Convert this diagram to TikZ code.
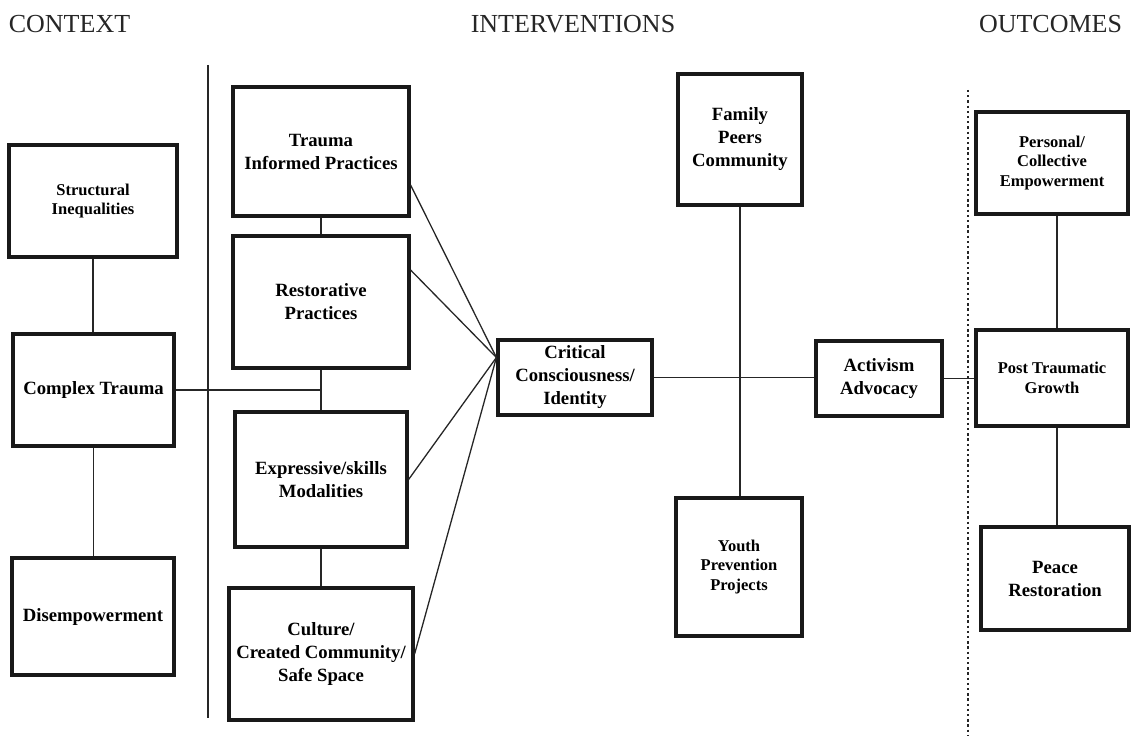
\documentclass[tikz,border=0pt]{standalone}
\usepackage{fontspec}
\setmainfont{Liberation Serif}
\usepackage{tikz}
\usetikzlibrary{positioning}
\usepackage{xcolor}

\begin{document}
\begin{tikzpicture}[
        x=1pt, y=-1pt,
        cbox/.style={rectangle, draw=black!90, line width=3.2pt, align=center, inner sep=0pt,
            font=\fontsize{18.7}{23}\selectfont\bfseries},
        sbox/.style={cbox, font=\fontsize{16.5}{19.5}\selectfont\bfseries},
        head/.style={anchor=base, font=\fontsize{26}{28}\selectfont, text=black!85},
        link/.style={draw=black!85, line width=1.3pt}
    ]
        \useasboundingbox (0,0) rectangle (1131,741);

        % column heads
        \node[head] (hctx) at (69.5,33) {CONTEXT};
        \node[head] (hint) at (573,33) {INTERVENTIONS};
        \node[head] (hout) at (1050.5,33) {OUTCOMES};

        % context
        \node[sbox, minimum width=168pt, minimum height=112pt] (struct) at (93,201) {Structural\\Inequalities};
        \node[cbox, minimum width=161pt, minimum height=112pt] (complex) at (93.5,390) {Complex Trauma};
        \node[cbox, minimum width=162pt, minimum height=117pt] (disemp) at (93,616.5) {Disempowerment};

        % interventions
        \node[cbox, minimum width=176pt, minimum height=129pt] (trauma) at (321,151.5) {Trauma\\Informed Practices};
        \node[cbox, minimum width=176pt, minimum height=132pt] (restor) at (321,302) {Restorative\\Practices};
        \node[cbox, minimum width=172pt, minimum height=135pt] (express) at (321,479.5) {Expressive/skills\\Modalities};
        \node[cbox, minimum width=184pt, minimum height=132pt] (culture) at (321,654) {Culture/\\Created Community/\\Safe Space};
        \node[cbox, minimum width=154pt, minimum height=75pt] (crit) at (575,377.5) {Critical\\Consciousness/\\Identity};
        \node[cbox, minimum width=124pt, minimum height=131pt] (family) at (740,139.5) {Family\\Peers\\Community};
        \node[sbox, minimum width=126pt, minimum height=138pt] (youth) at (739,567) {Youth\\Prevention\\Projects};
        \node[cbox, minimum width=126pt, minimum height=75pt] (activ) at (879,378.5) {Activism\\Advocacy};

        % outcomes
        \node[sbox, minimum width=152pt, minimum height=102pt] (personal) at (1052,163) {Personal/\\Collective\\Empowerment};
        \node[sbox, minimum width=152pt, minimum height=96pt] (ptg) at (1052,378) {Post Traumatic\\Growth};
        \node[cbox, minimum width=148pt, minimum height=103pt] (peace) at (1055,578.5) {Peace\\Restoration};

        % separators
        \coordinate (sepT) at (208,65);
        \coordinate (sepB) at (208,718);
        \coordinate (dotT) at (968,90);
        \coordinate (dotB) at (968,735);
        \draw[link] (sepT) -- (sepB);
        \draw[draw=black!85, line width=1.8pt, dash pattern=on 2.3pt off 2.9pt] (dotT) -- (dotB);

        % context links
        \draw[link] (struct.south) -- (struct.south |- complex.north);
        \draw[link] (complex.south) -- (complex.south |- disemp.north);
        \draw[link] (complex.east) -- (complex.east -| restor.south);

        % intervention chain
        \draw[link] (trauma) -- (restor);
        \draw[link] (restor) -- (express);
        \draw[link] (express) -- (culture);

        % fan into critical consciousness
        \coordinate (hub) at ([yshift=20pt]crit.west);
        \draw[link] ([yshift=-33.5pt]trauma.east) -- (hub);
        \draw[link] ([yshift=32pt]restor.east) -- (hub);
        \draw[link] (express.east) -- (hub);
        \draw[link] (culture.east) -- (hub);

        \draw[link] (crit.east) -- (crit.east -| activ.west);
        \draw[link] (family.south) -- (family.south |- youth.north);
        \draw[link] (activ.east) -- (activ.east -| ptg.west);

        % outcome links
        \draw[link] ([xshift=5pt]personal.south) -- ([xshift=5pt]personal.south |- ptg.north);
        \draw[link] ([xshift=5pt]ptg.south) -- ([xshift=5pt]ptg.south |- peace.north);
    \end{tikzpicture}
\end{document}
